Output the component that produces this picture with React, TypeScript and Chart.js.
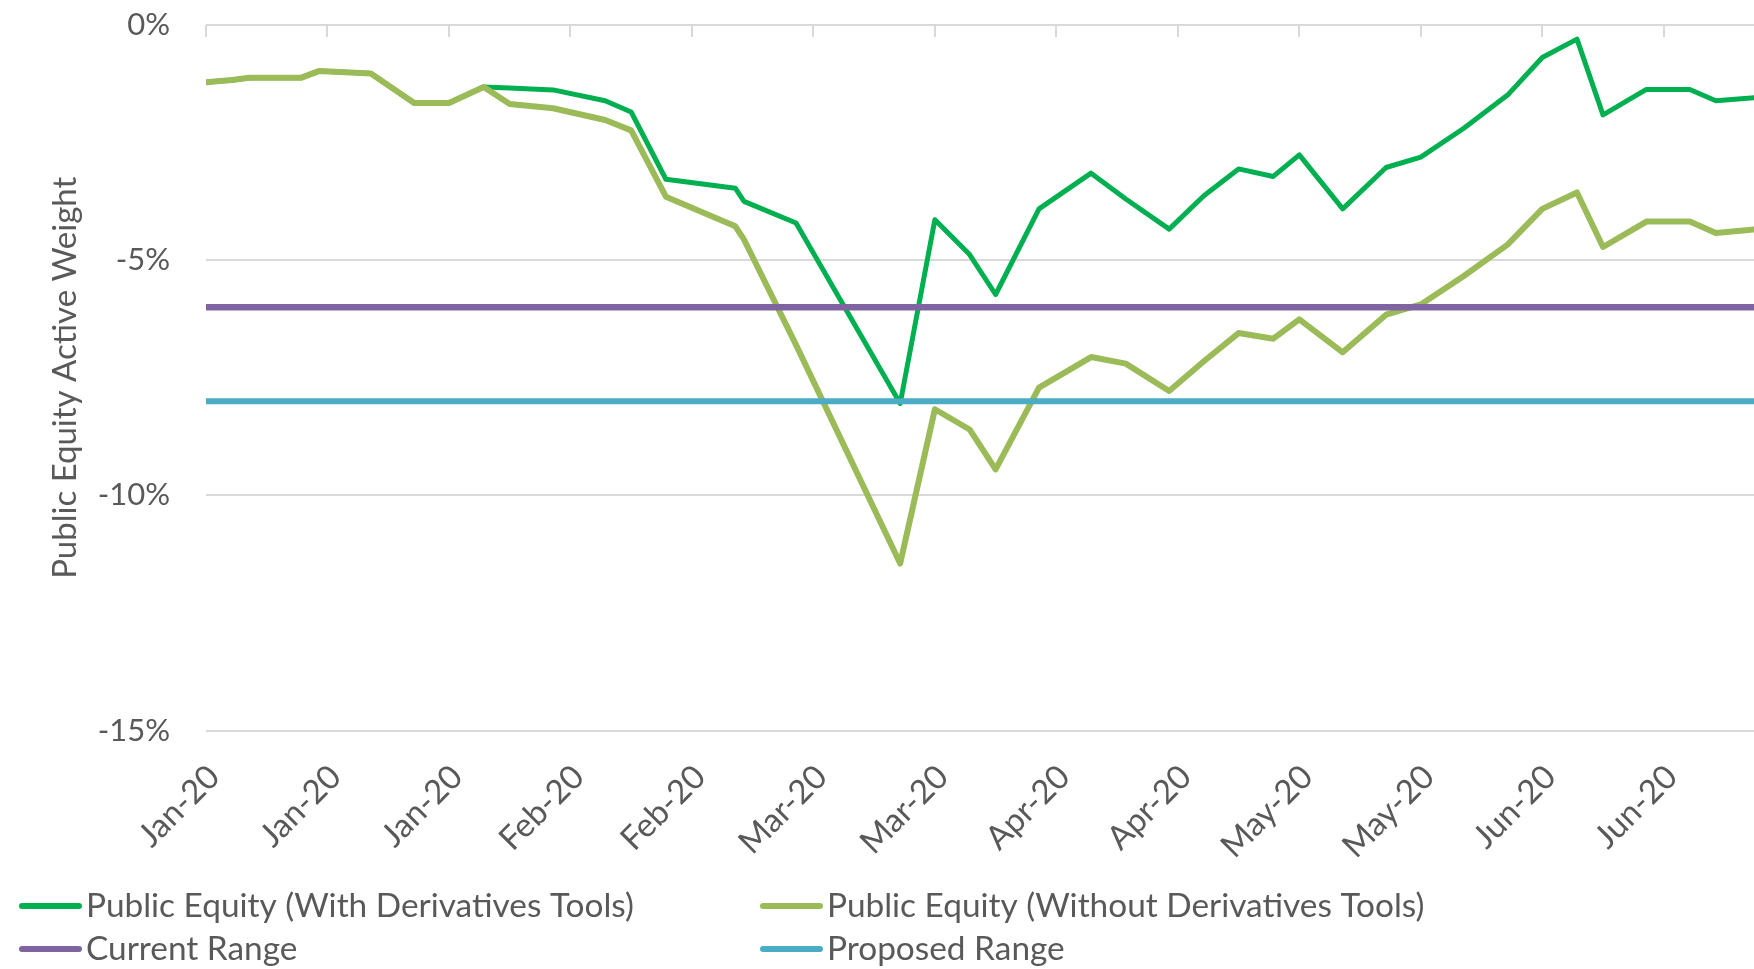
import React, { useEffect, useRef } from "react";
import { Chart, registerables } from "chart.js";

Chart.register(...registerables);

// ---------- data ----------
const START_DATE = "2020-01-02";

const dates = [
  "2020-01-02", "2020-01-05", "2020-01-07", "2020-01-13", "2020-01-15", "2020-01-21",
  "2020-01-26", "2020-01-30", "2020-02-03", "2020-02-06", "2020-02-11", "2020-02-17",
  "2020-02-20", "2020-02-24", "2020-03-03", "2020-03-04", "2020-03-10", "2020-03-22",
  "2020-03-26", "2020-03-30", "2020-04-02", "2020-04-07", "2020-04-13", "2020-04-17",
  "2020-04-22", "2020-04-26", "2020-04-30", "2020-05-04", "2020-05-07", "2020-05-12",
  "2020-05-17", "2020-05-21", "2020-05-26", "2020-05-31", "2020-06-04", "2020-06-08",
  "2020-06-11", "2020-06-16", "2020-06-21", "2020-06-24", "2020-06-29",
];

const withDerivatives = [
  -1.22, -1.17, -1.12, -1.12, -0.98, -1.03,
  -1.66, -1.66, -1.32, -1.34, -1.38, -1.61,
  -1.85, -3.28, -3.47, -3.75, -4.21, -8.05,
  -4.14, -4.88, -5.73, -3.91, -3.15, -3.70,
  -4.34, -3.63, -3.06, -3.22, -2.76, -3.91,
  -3.03, -2.81, -2.19, -1.49, -0.69, -0.30,
  -1.91, -1.37, -1.37, -1.61, -1.54,
];

const withoutDerivatives = [
  -1.22, -1.17, -1.12, -1.12, -0.98, -1.03,
  -1.66, -1.66, -1.32, -1.68, -1.77, -2.02,
  -2.24, -3.65, -4.28, -4.56, -6.80, -11.45,
  -8.17, -8.60, -9.45, -7.71, -7.06, -7.20,
  -7.78, -7.15, -6.55, -6.67, -6.26, -6.96,
  -6.16, -5.94, -5.33, -4.67, -3.91, -3.56,
  -4.72, -4.18, -4.18, -4.42, -4.34,
];

const CURRENT_RANGE = -6;
const PROPOSED_RANGE = -8;

const seriesLabels = [
  "Public Equity (With Derivatives Tools)",
  "Public Equity (Without Derivatives Tools)",
  "Current Range",
  "Proposed Range",
];

const yTicks = [0, -5, -10, -15];
const monthNames = ["Jan", "Feb", "Mar", "Apr", "May", "Jun", "Jul", "Aug", "Sep", "Oct", "Nov", "Dec"];
const Y_AXIS_TITLE = "Public Equity Active Weight";

// ---------- helpers ----------
const DAY_MS = 86400000;
const startMs = Date.parse(START_DATE);
const dayOf = (d: string) => (Date.parse(d) - startMs) / DAY_MS;
const fmtDay = (v: number) => {
  const dt = new Date(startMs + v * DAY_MS);
  return monthNames[dt.getUTCMonth()] + "-" + String(dt.getUTCFullYear()).slice(2);
};

const X_TICK_STEP = 14;
const X_MAX = 178.4;

const FONT = "Lato, 'Open Sans', sans-serif";
const TEXT_COLOR = "#595959";
const GRID_COLOR = "#d9d9d9";

const COLORS = ["#00B050", "#9BBB59", "#8064A2", "#4BACC6"];

const topTickPlugin = {
  id: "topTicks",
  beforeDatasetsDraw(chart: any) {
    const { ctx, scales } = chart;
    const x = scales.x;
    const y = scales.y;
    const y0 = y.getPixelForValue(0);
    ctx.save();
    ctx.strokeStyle = GRID_COLOR;
    ctx.lineWidth = 2;
    x.ticks.forEach((t: any) => {
      const px = Math.round(x.getPixelForValue(t.value));
      ctx.beginPath();
      ctx.moveTo(px, y0);
      ctx.lineTo(px, y0 + 12);
      ctx.stroke();
    });
    ctx.restore();
  },
};

const gridLegendPlugin = {
  id: "gridLegend",
  afterDraw(chart: any) {
    const { ctx } = chart;
    const cols = [19, 760];
    const rows = [906, 949];
    const lineLen = 63;
    ctx.save();
    ctx.font = `33.4px ${FONT}`;
    ctx.fillStyle = TEXT_COLOR;
    ctx.textBaseline = "middle";
    ctx.textAlign = "left";
    chart.data.datasets.forEach((ds: any, i: number) => {
      const cx = cols[i % 2];
      const cy = rows[Math.floor(i / 2)];
      ctx.strokeStyle = ds.borderColor;
      ctx.lineWidth = 6;
      ctx.lineCap = "round";
      ctx.beginPath();
      ctx.moveTo(cx + 3, cy);
      ctx.lineTo(cx + lineLen - 3, cy);
      ctx.stroke();
      ctx.fillText(ds.label, cx + lineLen + 4, cy);
    });
    ctx.restore();
  },
};

export default function App() {
  const ref = useRef<HTMLCanvasElement | null>(null);

  useEffect(() => {
    if (!ref.current) return;
    const xs = dates.map(dayOf);
    const chart = new Chart(ref.current, {
      type: "line",
      data: {
        datasets: [
          {
            label: seriesLabels[0],
            data: xs.map((x, i) => ({ x, y: withDerivatives[i] })),
            borderColor: COLORS[0],
            borderWidth: 5,
            order: 4,
          },
          {
            label: seriesLabels[1],
            data: xs.map((x, i) => ({ x, y: withoutDerivatives[i] })),
            borderColor: COLORS[1],
            borderWidth: 6,
            order: 3,
          },
          {
            label: seriesLabels[2],
            data: xs.map((x) => ({ x, y: CURRENT_RANGE })),
            borderColor: COLORS[2],
            borderWidth: 6.5,
            order: 2,
          },
          {
            label: seriesLabels[3],
            data: xs.map((x) => ({ x, y: PROPOSED_RANGE })),
            borderColor: COLORS[3],
            borderWidth: 6,
            order: 1,
          },
        ],
      },
      options: {
        responsive: false,
        animation: false,
        events: [],
        layout: { padding: { top: 25, left: 0, right: 0, bottom: 0 } },
        elements: {
          point: { radius: 0 },
          line: { tension: 0, borderJoinStyle: "round", borderCapStyle: "round", fill: false },
        },
        plugins: {
          legend: { display: false },
          tooltip: { enabled: false },
        },
        scales: {
          x: {
            type: "linear",
            min: 0,
            max: X_MAX,
            grid: { display: false, drawTicks: false },
            border: { display: false },
            ticks: {
              stepSize: X_TICK_STEP,
              includeBounds: false,
              autoSkip: false,
              minRotation: 45,
              maxRotation: 45,
              padding: 27,
              labelOffset: 8,
              color: TEXT_COLOR,
              font: { family: FONT, size: 33 },
              callback: (v: any) => fmtDay(Number(v)),
            },
            afterFit: (s: any) => {
              s.height = 969 - 730.5;
              s.paddingLeft = 0;
              s.paddingRight = 0;
            },
          },
          y: {
            type: "linear",
            min: Math.min(...yTicks),
            max: Math.max(...yTicks),
            grid: { color: GRID_COLOR, lineWidth: 2, drawTicks: false },
            border: { display: false },
            ticks: {
              stepSize: 5,
              padding: 36,
              color: TEXT_COLOR,
              font: { family: FONT, size: 31 },
              callback: (v: any) => `${v}%`,
            },
            title: {
              display: true,
              text: Y_AXIS_TITLE,
              color: TEXT_COLOR,
              font: { family: FONT, size: 33 },
              padding: { top: 46, bottom: 0 },
            },
            afterFit: (s: any) => {
              s.width = 206;
              s.paddingTop = 0;
              s.paddingBottom = 0;
            },
          },
        },
      },
      plugins: [topTickPlugin, gridLegendPlugin],
    } as any);
    return () => chart.destroy();
  }, []);

  return (
    <div style={{ position: "fixed", left: 0, top: 0, width: 1754, height: 969, background: "#fff" }}>
      <canvas ref={ref} width={1754} height={969} style={{ display: "block" }} />
    </div>
  );
}
